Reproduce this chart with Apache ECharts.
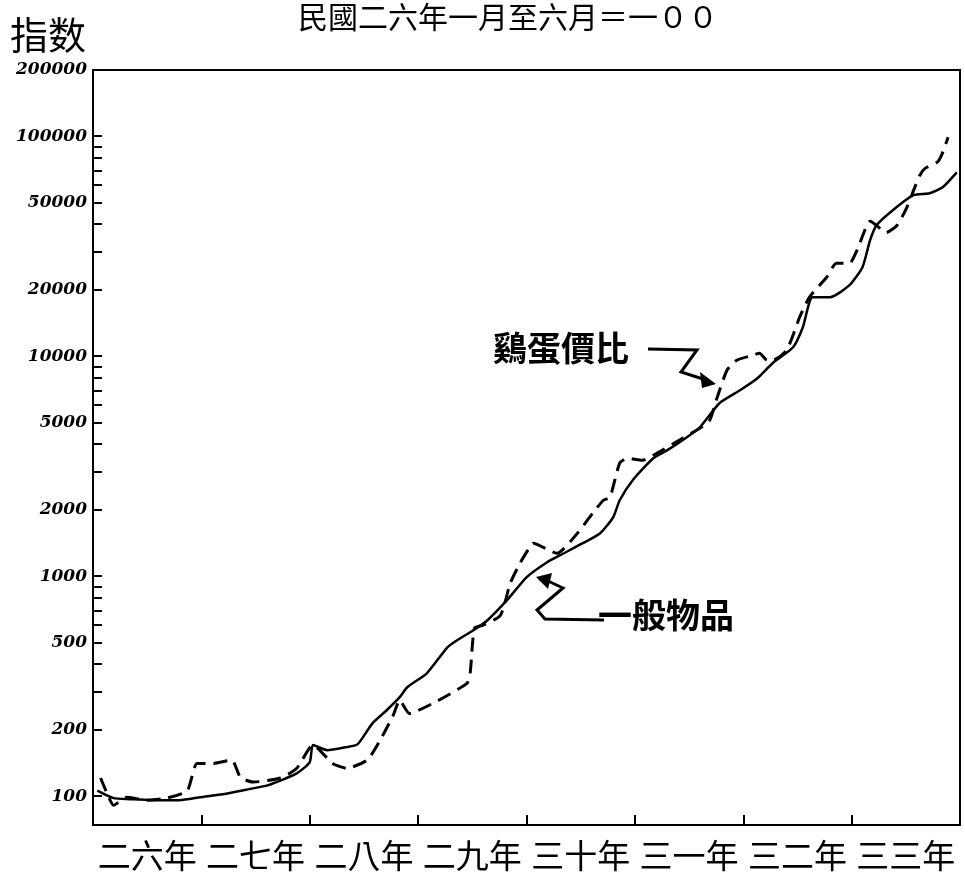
<!DOCTYPE html>
<html><head><meta charset="utf-8">
<script src="https://cdn.jsdelivr.net/npm/echarts@6/dist/echarts.min.js"></script>
<style>html,body{margin:0;padding:0;background:#fff}#c{width:965px;height:889px}</style>
</head><body><div id="c"></div>
<script>
// x labels (years of the Republic)
const yearLabels = ['二六年','二七年','二八年','二九年','三十年','三一年','三二年','三三年'];
const yTickValues = [100,200,500,1000,2000,5000,10000,20000,50000,100000,200000];
const yMinorTicks = [300,400,600,700,800,900,3000,4000,6000,7000,8000,9000,30000,40000,60000,70000,80000,90000];

// 一般物品 (solid): time in years since 26年1月, index value
const goodsT = [0.04,0.19,0.34,0.53,0.80,0.99,1.24,1.45,1.61,1.88,2.00,2.03,2.16,2.33,2.44,2.58,2.71,2.83,2.90,3.08,3.27,3.36,3.51,3.64,3.82,4.00,4.19,4.31,4.52,4.68,4.80,4.86,4.98,5.17,5.30,5.48,5.60,5.78,5.97,6.13,6.27,6.46,6.55,6.64,6.80,6.98,7.10,7.17,7.23,7.38,7.57,7.72,7.84,7.97];
const goodsV = [106,98,97,96,96,99,103,108,112,127,143,171,162,167,172,215,246,282,313,362,475,512,568,631,778,989,1158,1246,1413,1568,1854,2215,2731,3436,3741,4285,4755,6115,7000,7943,9296,10990,13550,18540,18540,21030,25400,33670,39400,46100,53950,55080,58610,68550];

// 鷄蛋價比 (dashed)
const eggT = [0.07,0.13,0.19,0.31,0.50,0.68,0.87,0.96,1.11,1.28,1.36,1.48,1.73,1.88,2.03,2.21,2.34,2.53,2.65,2.77,2.83,2.92,3.14,3.45,3.48,3.52,3.60,3.76,3.85,3.94,4.03,4.06,4.28,4.47,4.61,4.71,4.77,4.86,4.93,5.07,5.17,5.44,5.60,5.69,5.76,5.85,5.94,6.09,6.15,6.22,6.27,6.40,6.52,6.61,6.77,6.86,6.98,7.05,7.14,7.17,7.32,7.42,7.51,7.58,7.63,7.68,7.79,7.83,7.89];
const eggV = [121,103,91,99,96,98,106,141,141,146,122,116,121,134,171,141,134,146,180,233,273,238,265,326,362,580,599,665,929,1146,1355,1413,1272,1568,1933,2215,2285,3263,3436,3366,3548,4240,4706,5117,6510,8630,9590,10100,10320,9590,9590,10650,15040,18540,22860,26470,26470,30340,39400,41100,36500,39400,47540,58070,66530,71610,76210,82000,98900];

const chart = echarts.init(document.getElementById('c'), null, {renderer:'canvas'});
const CJK = '"Noto Sans CJK TC","Noto Sans CJK SC",sans-serif';
chart.setOption({
  animation: false,
  backgroundColor: '#fff',
  grid: {left: 93, right: 5, top: 70, bottom: 64, show: true, borderColor: '#000', borderWidth: 2, backgroundColor: 'transparent'},
  xAxis: {
    type: 'value', min: 0, max: 8,
    axisLine: {show: true, lineStyle: {color: '#000', width: 2}},
    splitLine: {show: false},
    axisTick: {show: true, inside: true, length: 10, lineStyle: {color: '#000', width: 2}, customValues: [1,2,3,4,5,6,7]},
    axisLabel: {
      customValues: [0.5,1.5,2.5,3.5,4.5,5.5,6.5,7.5],
      formatter: v => yearLabels[Math.floor(v)],
      color: '#000', fontSize: 33, fontFamily: CJK, margin: 14
    }
  },
  yAxis: {
    type: 'log', logBase: 10, min: 74, max: 200000,
    axisLine: {show: true, lineStyle: {color: '#000', width: 2}},
    splitLine: {show: false},
    minorTick: {show: false},
    axisTick: {show: true, inside: true, length: 9, lineStyle: {color: '#000', width: 2}, customValues: yTickValues.concat(yMinorTicks)},
    axisLabel: {
      customValues: yTickValues,
      formatter: v => String(Math.round(v)),
      color: '#000', fontSize: 17, fontStyle: 'italic', fontWeight: 'bold', fontFamily: 'DejaVu Serif', margin: 6
    }
  },
  series: [
    {name: '一般物品', type: 'line', data: goodsT.map((t,i)=>[t, goodsV[i]]), showSymbol: false, smooth: 0.2,
     lineStyle: {color: '#000', width: 2.5}},
    {name: '鷄蛋價比', type: 'line', data: eggT.map((t,i)=>[t, eggV[i]]), showSymbol: false, smooth: 0.2,
     lineStyle: {color: '#000', width: 3, type: [14,8]}}
  ],
  graphic: [
    {type: 'text', left: 298, top: 2, style: {text: '民國二六年一月至六月＝一００', font: '30px ' + CJK, fill: '#000'}},
    {type: 'text', left: 10, top: 16, style: {text: '指数', font: '38px ' + CJK, fill: '#000'}},
    {type: 'text', left: 493, top: 331, style: {text: '鷄蛋價比', font: 'bold 34px ' + CJK, fill: '#000'}},
    {type: 'polyline', shape: {points: [[648,349],[697,350],[681,372],[706,380]]}, style: {stroke: '#000', lineWidth: 3, fill: null}},
    {type: 'polygon', shape: {points: [[716,384],[700,372],[702,388]]}, style: {fill: '#000'}},
    {type: 'text', left: 598, top: 598, style: {text: '一般物品', font: 'bold 34px ' + CJK, fill: '#000'}},
    {type: 'polyline', shape: {points: [[604,620],[545,619],[537,610],[563,588],[548,581]]}, style: {stroke: '#000', lineWidth: 3, fill: null}},
    {type: 'polygon', shape: {points: [[536,577],[552,573],[548,589]]}, style: {fill: '#000'}}
  ]
});
</script></body></html>
